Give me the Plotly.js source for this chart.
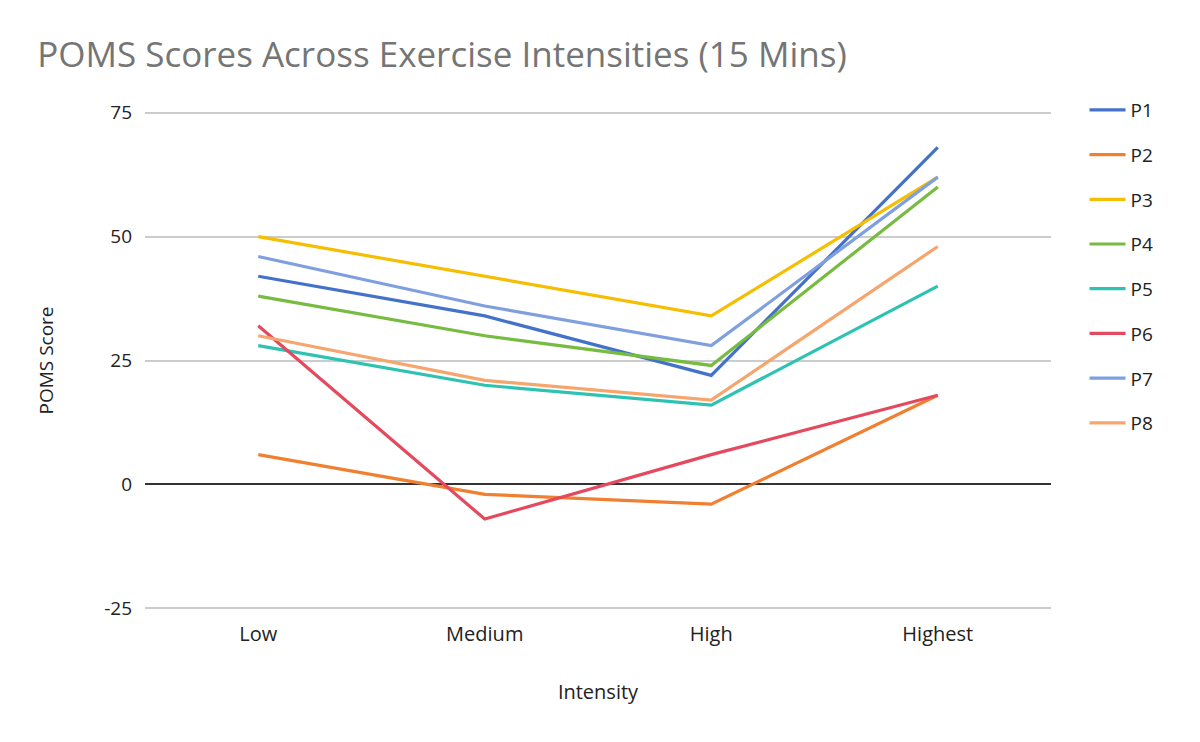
<!DOCTYPE html>
<html>
<head>
<meta charset="utf-8">
<script src="https://cdn.plot.ly/plotly-3.0.1.min.js"></script>
<style>html,body{margin:0;padding:0;background:#fff;}#chart{width:1200px;height:742px;}</style>
</head>
<body>
<div id="chart"></div>
<script>
const categories = ["Low", "Medium", "High", "Highest"];
const seriesNames = ["P1", "P2", "P3", "P4", "P5", "P6", "P7", "P8"];
const P1 = [42, 34, 22, 68];
const P2 = [6, -2, -4, 18];
const P3 = [50, 42, 34, 62];
const P4 = [38, 30, 24, 60];
const P5 = [28, 20, 16, 40];
const P6 = [32, -7, 6, 18];
const P7 = [46, 36, 28, 62];
const P8 = [30, 21, 17, 48];
const yTicks = [-25, 0, 25, 50, 75];
const colors = ["#4472C8", "#F07F30", "#F6BE00", "#77BB41", "#2DC3B2", "#E5495E", "#7F9FDF", "#F5A66F"];

const seriesValues = [P1, P2, P3, P4, P5, P6, P7, P8];
const traces = seriesValues.map((vals, i) => ({
  type: "scatter",
  mode: "lines",
  x: categories,
  y: vals,
  name: seriesNames[i],
  legendgroup: seriesNames[i],
  line: {color: colors[i], width: 3.2},
  hoverinfo: "x+y+name"
}));

const font = "'Open Sans', 'Noto Sans', sans-serif";
const layout = {
  width: 1200, height: 742,
  paper_bgcolor: "#fff", plot_bgcolor: "#fff",
  margin: {l: 145, r: 149, t: 111, b: 132},
  font: {family: font, color: "#222", size: 19},
  title: {text: "POMS Scores Across Exercise Intensities (15 Mins)", x: 0.031, xanchor: "left", y: 0.926, yanchor: "middle",
          font: {family: font, size: 35, color: "#757575"}},
  xaxis: {
    type: "category", range: [-0.5, 3.5],
    showgrid: false, zeroline: false, showline: false, ticks: "",
    ticklabelstandoff: 10,
    tickfont: {size: 20, color: "#222"},
    title: {text: "Intensity", font: {size: 20, color: "#222"}, standoff: 38}
  },
  yaxis: {
    range: [-25.35, 75.35], tickvals: yTicks, ticktext: yTicks.map(String),
    showgrid: true, gridcolor: "#CCCCCC", gridwidth: 1.5,
    zeroline: true, zerolinecolor: "#333", zerolinewidth: 1.5,
    showline: false, ticks: "", ticklabelstandoff: 12,
    tickfont: {size: 19, color: "#222"},
    title: {text: "POMS Score", font: {size: 19, color: "#222"}, standoff: 45}
  },
  legend: {x: 1.037, xanchor: "left", y: 1.04, yanchor: "top", font: {size: 19, color: "#222"},
           tracegroupgap: 17, itemwidth: 36, bgcolor: "rgba(0,0,0,0)"},
  showlegend: true
};

Plotly.newPlot("chart", traces, layout, {displayModeBar: false, staticPlot: false});
</script>
</body>
</html>
